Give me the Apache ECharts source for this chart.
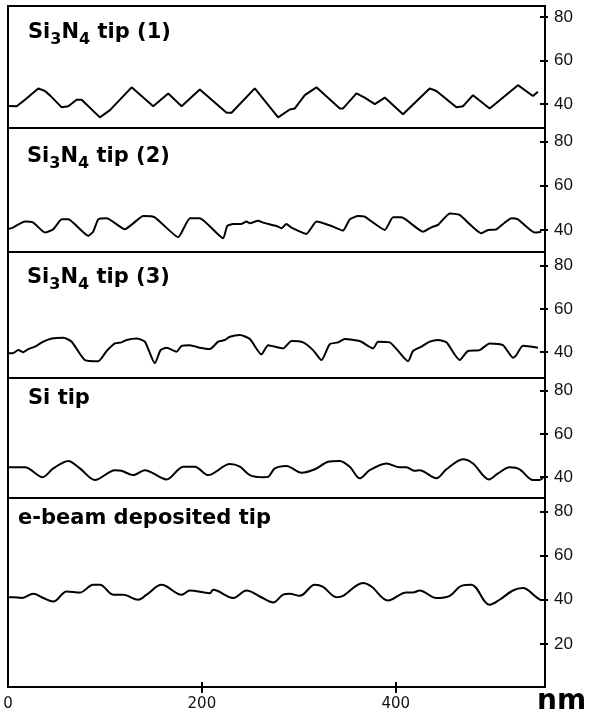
<!DOCTYPE html>
<html>
<head>
<meta charset="utf-8">
<script src="https://cdn.jsdelivr.net/npm/echarts@6/dist/echarts.min.js"></script>
<style>
  html, body { margin: 0; padding: 0; background: #fff; }
  #main { width: 590px; height: 720px; }
</style>
</head>
<body>
<div id="main"></div>
<script>
var myChart = echarts.init(document.getElementById('main'));

// profiles, [nm, height]
var tip1 = [[1,39.1],[9,39],[17.5,42],[31.2,47.2],[38.1,46],[43.3,44],[55.4,38.5],[62.2,39],[70.8,42],[76,42],[94.8,33.9],[105.2,37.2],[127.5,47.7],[149.8,39],[165.3,44.9],[179.1,39],[197.9,46.7],[225.5,36],[230.6,36],[254.6,47.2],[278.7,33.9],[290.7,37.5],[295.9,38],[306.2,44.1],[318.2,47.7],[342.3,38],[345.7,38],[359.5,44.9],[368,43],[378.4,40],[388.7,43],[407.5,35.3],[435,47.2],[442,46],[462.6,38.5],[469.4,39],[479.7,44.1],[496.9,38],[526.1,48.7],[541.5,43.7],[546.7,45.7]];
var tip2 = [[1,40.5],[3.8,40.8],[17.5,43.8],[26.1,43.3],[38.1,38.8],[46.7,40.3],[55.4,44.8],[62.2,44.8],[82.8,37.3],[87.9,39.2],[93.1,44.8],[101.8,45.3],[120.6,40.3],[129.2,43],[139.5,46.3],[151.5,45.7],[175.6,36.7],[187.6,45.3],[197.9,45.3],[222,36.2],[226.1,41.8],[232.3,42.7],[240.9,42.7],[246.1,43.8],[249.5,43],[258,44.2],[263.2,43.3],[277,41.8],[282.2,40.8],[287.3,42.7],[292,41.2],[307.9,38.2],[318.2,43.8],[333.7,41.8],[345.7,39.7],[352.6,44.8],[361.1,46.3],[368,46],[388.7,40],[397.2,45.7],[405.9,45.7],[428.1,39.2],[436.8,41.2],[443.6,42.3],[455.7,47.5],[465.9,46.8],[488.4,38.5],[495.2,40],[503.8,40.3],[519.3,45.3],[526.1,44.8],[543.3,38.8],[550.2,39.2]];
var tip3 = [[1,39.4],[4.8,39.4],[10.6,40.9],[15.8,39.9],[20.9,41.4],[27.8,42.5],[36.4,44.8],[45.1,46.3],[57,46.6],[65.7,44.8],[79.4,36.3],[93.1,35.8],[101.8,40.5],[110.3,44],[117.2,44.5],[122.4,45.6],[132.7,46.3],[141.2,44.8],[151.5,34.8],[157.4,40.9],[163.6,42],[173.9,40.2],[179.1,42.9],[187.6,43.2],[197.9,42],[208.2,41.4],[216.8,44.8],[223.7,45.6],[228.9,47.1],[239.2,47.9],[249.5,46],[261.5,38.9],[268.4,43.2],[283.8,41.7],[292.5,45.1],[304.4,44.5],[314.7,40.9],[323.4,36.3],[331.9,43.6],[340.5,44.5],[347.4,46],[362.9,45.1],[376.6,41.7],[381.8,44.8],[393.8,44.5],[412.7,35.8],[417.8,40.5],[426.5,42.5],[435.1,44.8],[443.6,45.6],[452.3,44.5],[466,36.3],[474.5,40.5],[486.6,40.9],[496.9,44],[510.6,43.2],[521,37.4],[524.4,38.6],[531.2,42.9],[546.7,42]];
var siTip = [[1,44.5],[17.5,44.5],[35.8,39.9],[46.7,44],[62.2,47.5],[74.2,44],[89.7,38.6],[110.3,43.2],[117.2,42.9],[129.2,40.9],[141.2,43.2],[163.6,38.9],[180.7,44.8],[192.8,44.8],[206.5,40.9],[228.9,46],[239.2,44.8],[249.5,40.9],[263.2,39.9],[268.4,40.1],[275.3,44],[287.3,45.1],[302.8,42],[316.5,43.6],[330.2,47.1],[342.3,47.5],[352.6,44.8],[362.9,39.4],[373.2,43.2],[390.4,46.3],[404.1,44.5],[411,44.5],[419.6,42.9],[424.7,43.2],[441.9,39.4],[452.3,43.6],[469.4,48.2],[479.7,46.3],[496.2,38.9],[505.5,41.7],[517.5,44.5],[527.8,43.6],[541.5,38.6],[548.5,38.6],[551.9,39.9]];
var ebeamTip = [[1,41.2],[5.5,41.2],[14.1,40.8],[26.1,42.7],[36.4,40.8],[46.7,39.2],[60.5,43.8],[74.2,43.3],[87.9,46.8],[94.8,46.8],[108.6,42.3],[118.9,42.3],[134.3,40],[143,42.3],[158.5,46.8],[179.1,42.3],[187.6,44.2],[208.2,43],[211.6,44.5],[232.3,40.8],[246.1,44.2],[259.8,41.5],[273.5,38.8],[283.8,42.3],[290.7,42.7],[301,41.8],[316.5,46.8],[325.1,45.8],[338.9,41.2],[345.7,41.8],[366.3,47.6],[374.9,46],[392.1,39.7],[411,43.3],[417.8,43.3],[424.7,44.2],[441.9,40.8],[455.7,41.8],[467.7,46.3],[478,46.8],[496.9,37.7],[507.2,40],[520.9,44.2],[531.2,45.3],[545,41.2],[550.2,39.7]];

var profiles = [tip1, tip2, tip3, siTip, ebeamTip];
var smoothing = [false, 0.15, 0.2, 0.3, 0.35];
var yTicks = [[40, 60, 80], [40, 60, 80], [40, 60, 80], [40, 60, 80], [20, 40, 60, 80]];
var xTicks = [0, 200, 400];
var xMax = 554;

// panel geometry in pixels, with the value range each one spans
var panels = [
  { top: 6, height: 122, min: 29, max: 85.1 },
  { top: 128, height: 124, min: 30, max: 86.2 },
  { top: 252, height: 126, min: 28, max: 86.3 },
  { top: 378, height: 120, min: 30.3, max: 85.9 },
  { top: 498, height: 189, min: 0.4, max: 86.2 }
];
var gridLeft = 8, gridRight = 45;

var grids = [], xAxes = [], yAxes = [], series = [];
var noLine = { show: false, onZero: false }, noLabel = { show: false }, noSplit = { show: false };
var tickStyle = { color: '#000', width: 2 };

panels.forEach(function (p, i) {
  grids.push({
    left: gridLeft, right: gridRight, top: p.top, height: p.height,
    show: true, borderColor: '#000', borderWidth: 2, backgroundColor: 'transparent'
  });
  var last = i === panels.length - 1;
  xAxes.push({
    type: 'value', gridIndex: i, min: 0, max: xMax,
    show: last, position: 'bottom',
    axisLine: { onZero: false, lineStyle: { color: '#000', width: 2 } },
    axisTick: { show: false },
    axisLabel: { customValues: xTicks, color: '#111', fontFamily: 'DejaVu Sans', fontSize: 15, margin: 10 },
    splitLine: noSplit
  });
  yAxes.push({
    type: 'value', gridIndex: i, position: 'right', min: p.min, max: p.max,
    axisLine: { show: true, onZero: false, lineStyle: { color: '#000', width: 2 } },
    axisTick: { show: false },
    axisLabel: { customValues: yTicks[i], color: '#111', fontFamily: 'Liberation Sans', fontSize: 17, margin: 9 },
    splitLine: noSplit
  });
  series.push({
    type: 'line', xAxisIndex: i, yAxisIndex: i,
    data: profiles[i], showSymbol: false, smooth: smoothing[i],
    lineStyle: { color: '#000', width: 2 }, silent: true
  });
});

// helper grids: shifted in by a few px so outside ticks cross the real axis lines
panels.forEach(function (p, i) {
  var g = grids.length;
  grids.push({ left: gridLeft, right: gridRight + 5, top: p.top, height: p.height });
  xAxes.push({ type: 'value', gridIndex: g, min: 0, max: xMax, show: false, axisLine: noLine });
  yAxes.push({
    type: 'value', gridIndex: g, position: 'right', min: p.min, max: p.max,
    axisLine: noLine, axisLabel: noLabel, splitLine: noSplit,
    axisTick: { show: true, length: 8, customValues: yTicks[i], lineStyle: tickStyle }
  });
});
var last = panels[panels.length - 1];
var gx = grids.length;
grids.push({ left: gridLeft, right: gridRight, top: last.top, height: last.height - 5 });
xAxes.push({
  type: 'value', gridIndex: gx, min: 0, max: xMax, position: 'bottom',
  axisLine: noLine, axisLabel: noLabel, splitLine: noSplit,
  axisTick: { show: true, length: 11, customValues: [200, 400], lineStyle: tickStyle }
});
yAxes.push({ type: 'value', gridIndex: gx, show: false, axisLine: noLine });

var titleRich = {
  a: { fontFamily: 'DejaVu Sans', fontWeight: 'bold', fontSize: 21, lineHeight: 22, verticalAlign: 'top', color: '#111' },
  s: { fontFamily: 'DejaVu Sans', fontWeight: 'bold', fontSize: 16, lineHeight: 16, padding: [10, 0, 0, 0], verticalAlign: 'top', color: '#111' }
};
function title(txt, x, y) {
  return { type: 'text', left: x, top: y, style: { text: txt, rich: titleRich } };
}

var option = {
  animation: false,
  grid: grids,
  xAxis: xAxes,
  yAxis: yAxes,
  series: series,
  graphic: [
    title('{a|Si}{s|3}{a|N}{s|4}{a| tip (1)}', 28, 22),
    title('{a|Si}{s|3}{a|N}{s|4}{a| tip (2)}', 27, 146),
    title('{a|Si}{s|3}{a|N}{s|4}{a| tip (3)}', 27, 267),
    title('{a|Si tip}', 28, 388),
    title('{a|e-beam deposited tip}', 18, 508),
    { type: 'text', left: 537, top: 688, style: { text: 'nm', fontFamily: 'DejaVu Sans', fontWeight: 'bold', fontSize: 28, fill: '#000' } }
  ]
};
myChart.setOption(option);
</script>
</body>
</html>
